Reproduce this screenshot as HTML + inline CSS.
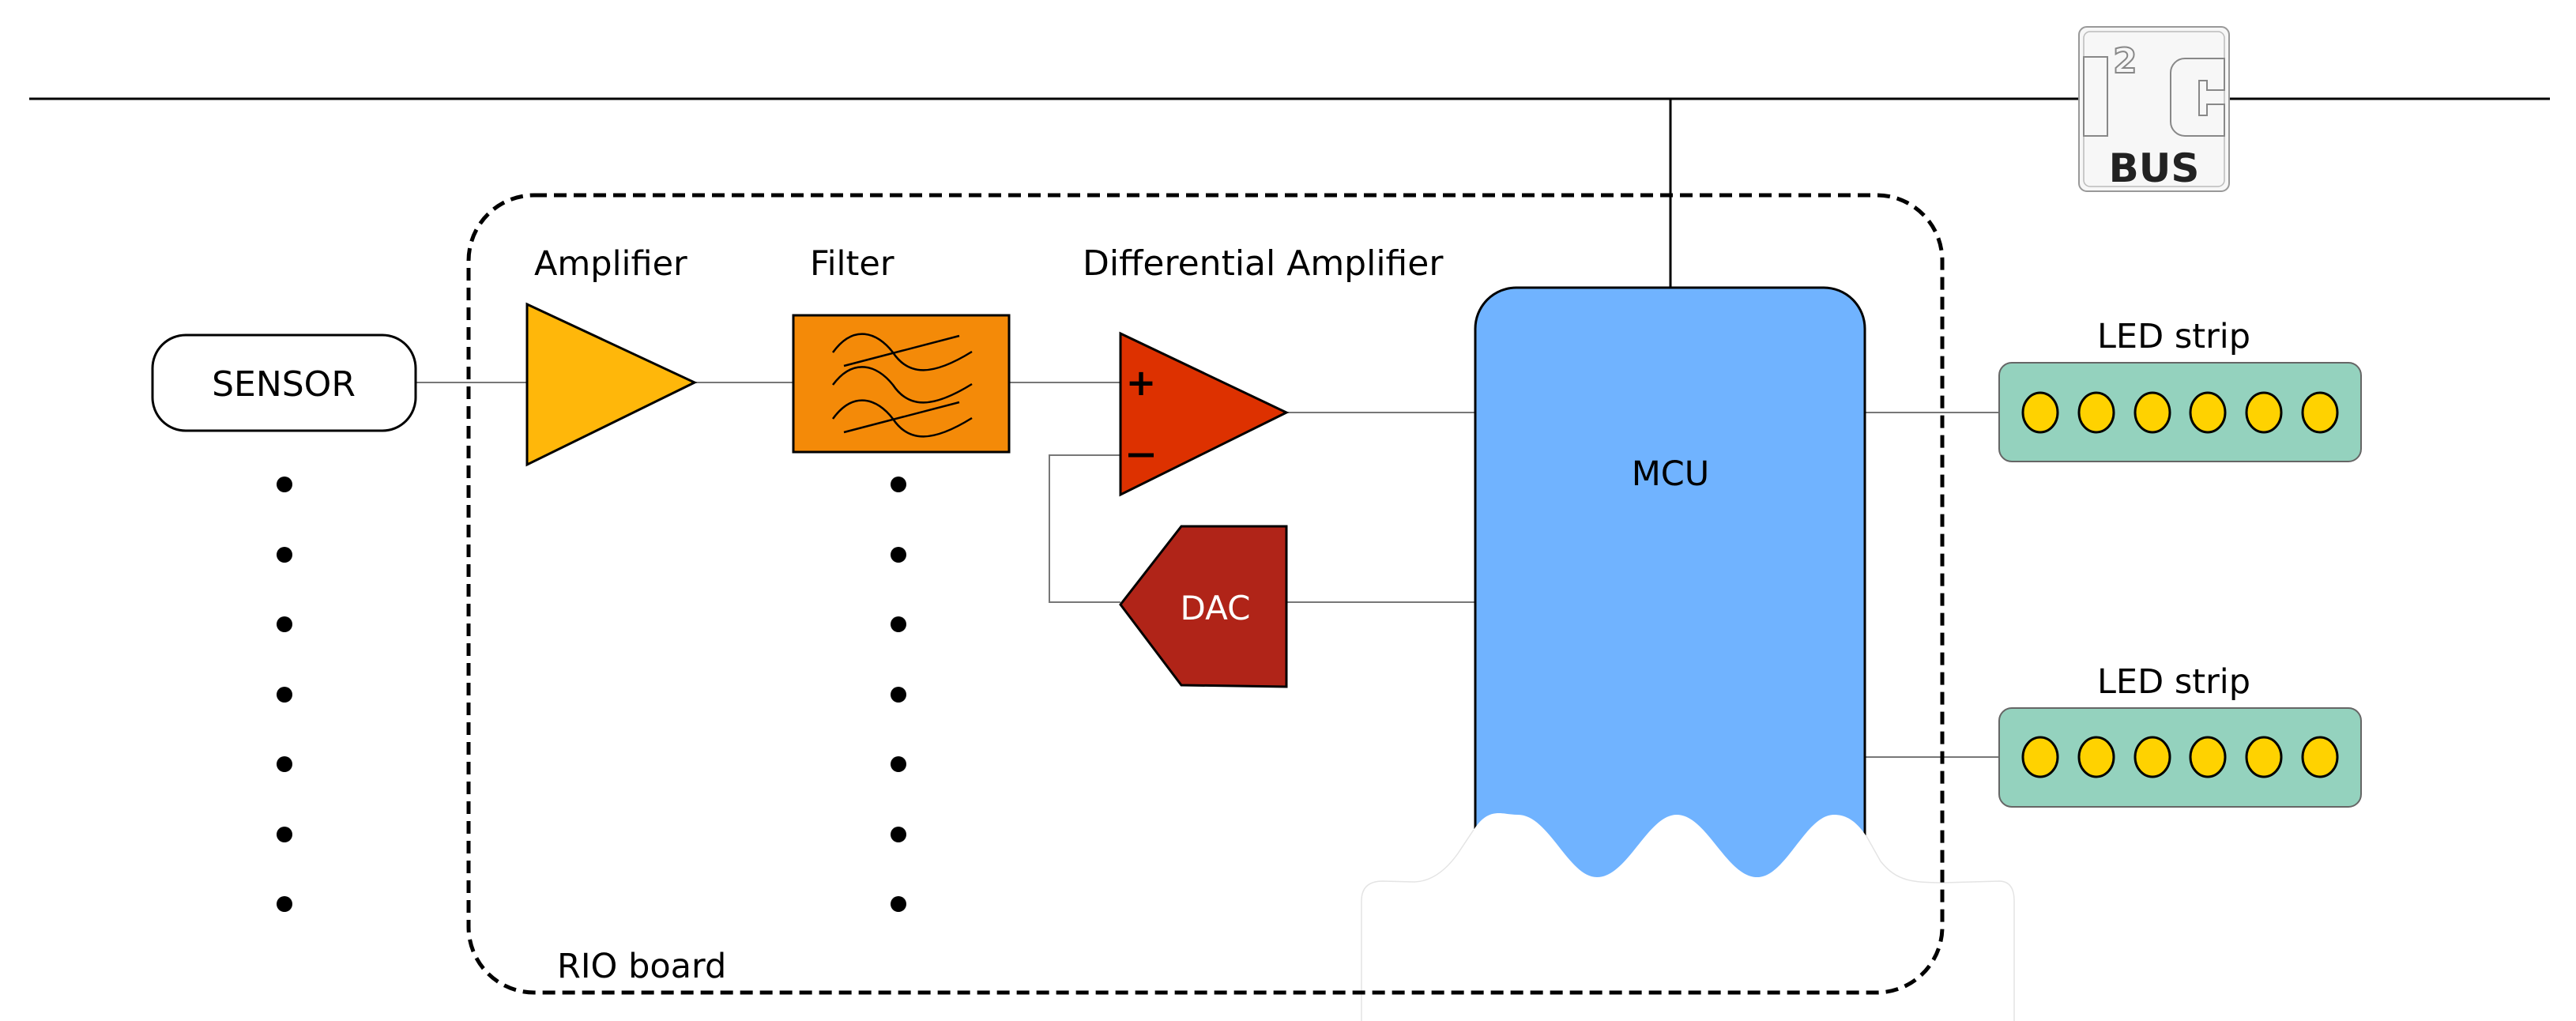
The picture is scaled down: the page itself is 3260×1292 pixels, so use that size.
<!DOCTYPE html>
<html><head><meta charset="utf-8"><style>
html,body{margin:0;padding:0;background:#fff;}
svg{display:block;}
text{font-family:"DejaVu Sans","Liberation Sans",sans-serif;}
</style></head><body>
<svg width="3260" height="1292" viewBox="0 0 3260 1292" xmlns="http://www.w3.org/2000/svg">
<line x1="37" y1="125" x2="2632" y2="125" stroke="#000" stroke-width="3"/>
<line x1="2820" y1="125" x2="3227" y2="125" stroke="#000" stroke-width="3"/>
<line x1="2114" y1="125" x2="2114" y2="366" stroke="#000" stroke-width="3"/>
<g>
<rect x="2631" y="34" width="190" height="208" rx="10" fill="#f7f7f7" stroke="#999" stroke-width="2"/>
<rect x="2637" y="40" width="178" height="196" rx="8" fill="none" stroke="#bbb" stroke-width="1.5"/>
<rect x="2637" y="72" width="30" height="100" fill="#f7f7f7" stroke="#888" stroke-width="2"/>
<text x="2674" y="92" font-size="44" font-weight="bold" fill="#f7f7f7" stroke="#888" stroke-width="2">2</text>
<path d="M2765 74 h50 v40 h-22 v-12 h-10 v44 h10 v-14 h22 v40 h-50 a18 18 0 0 1 -18 -18 v-62 a18 18 0 0 1 18 -18z" fill="#f7f7f7" stroke="#888" stroke-width="2"/>
<text x="2726" y="230" font-size="50" font-weight="bold" text-anchor="middle" fill="#222">BUS</text>
</g>
<g stroke="#777" stroke-width="2" fill="none">
<line x1="526" y1="484" x2="667" y2="484"/>
<line x1="879" y1="484" x2="1004" y2="484"/>
<line x1="1277" y1="484" x2="1418" y2="484"/>
<line x1="1628" y1="522" x2="1867" y2="522"/>
<polyline points="1418,576 1328,576 1328,762 1418,762"/>
<line x1="1628" y1="762" x2="1867" y2="762"/>
<line x1="2360" y1="522" x2="2530" y2="522"/>
<line x1="2360" y1="958" x2="2530" y2="958"/>
</g>
<rect x="193" y="424" width="333" height="121" rx="42" fill="#fff" stroke="#000" stroke-width="3"/>
<text x="359" y="501" font-size="44" text-anchor="middle">SENSOR</text>
<polygon points="667,385 879,484 667,588" fill="#FFB70A" stroke="#000" stroke-width="3"/>
<text x="676" y="348" font-size="43">Amplifier</text>
<rect x="1004" y="399" width="273" height="173" fill="#F48A08" stroke="#000" stroke-width="3"/>
<g fill="none" stroke="#000" stroke-width="2.5">
<path d="M1054 446 C1080 410,1110 420,1130 446 C1150 476,1180 476,1230 445"/>
<path d="M1054 487 C1080 452,1110 462,1130 487 C1150 517,1180 517,1230 486"/>
<path d="M1054 530 C1080 494,1110 504,1130 530 C1150 560,1180 560,1230 529"/>
<line x1="1068" y1="463" x2="1214" y2="425"/>
<line x1="1068" y1="547" x2="1214" y2="509"/>
</g>
<text x="1025" y="348" font-size="43">Filter</text>
<polygon points="1418,422 1628,522 1418,626" fill="#DD3100" stroke="#000" stroke-width="3"/>
<text x="1444" y="500" font-size="46" font-weight="bold" text-anchor="middle">+</text>
<line x1="1428" y1="576" x2="1460" y2="576" stroke="#000" stroke-width="5"/>
<text x="1370" y="348" font-size="44">Differential Amplifier</text>
<polygon points="1418,765 1495,666 1628,666 1628,869 1495,867" fill="#B02418" stroke="#000" stroke-width="3"/>
<text x="1538" y="784" font-size="42" text-anchor="middle" fill="#fff">DAC</text>
<path d="M1867 1130 V416 a52 52 0 0 1 52 -52 H2308 a52 52 0 0 1 52 52 V1130 Z" fill="#70B3FF" stroke="#000" stroke-width="3"/>
<text x="2114" y="614" font-size="43" text-anchor="middle">MCU</text>
<path d="M1723 1140 Q1723 1115 1750 1115 L1790 1116 Q1820 1115 1845 1080 L1865 1050 C1885 1020,1900 1031,1921 1031 C1960 1031,1985 1110,2021 1110 C2060 1110,2085 1031,2122 1031 C2160 1031,2185 1110,2224 1110 C2260 1110,2285 1031,2321 1031 C2345 1031,2360 1050,2380 1090 C2400 1115,2420 1117,2460 1117 L2530 1115 Q2549 1115 2549 1140 V1292 H1723 Z" fill="#fff" stroke="none"/>
<path d="M1723 1292 V1140 Q1723 1115 1750 1115 L1790 1116 Q1820 1115 1845 1080 L1865 1050" fill="none" stroke="#e4e4e4" stroke-width="1.5"/>
<path d="M2362 1058 L2380 1090 C2400 1115,2420 1117,2460 1117 L2530 1115 Q2549 1115 2549 1140 V1292" fill="none" stroke="#e4e4e4" stroke-width="1.5"/>
<rect x="593" y="247" width="1865" height="1009" rx="83" fill="none" stroke="#000" stroke-width="5" stroke-dasharray="16,9"/>
<text x="705" y="1237" font-size="43">RIO board</text>
<g fill="#000">
<circle cx="360" cy="613" r="10"/><circle cx="360" cy="702" r="10"/><circle cx="360" cy="790" r="10"/><circle cx="360" cy="879" r="10"/><circle cx="360" cy="967" r="10"/><circle cx="360" cy="1056" r="10"/><circle cx="360" cy="1144" r="10"/>
<circle cx="1137" cy="613" r="10"/><circle cx="1137" cy="702" r="10"/><circle cx="1137" cy="790" r="10"/><circle cx="1137" cy="879" r="10"/><circle cx="1137" cy="967" r="10"/><circle cx="1137" cy="1056" r="10"/><circle cx="1137" cy="1144" r="10"/>
</g>
<text x="2751" y="440" font-size="43" text-anchor="middle">LED strip</text>
<rect x="2530" y="459" width="458" height="125" rx="16" fill="#94D2BE" stroke="#666" stroke-width="2"/>
<g fill="#FFD200" stroke="#000" stroke-width="3">
<ellipse cx="2582" cy="522" rx="22" ry="25"/><ellipse cx="2653" cy="522" rx="22" ry="25"/><ellipse cx="2724" cy="522" rx="22" ry="25"/><ellipse cx="2794" cy="522" rx="22" ry="25"/><ellipse cx="2865" cy="522" rx="22" ry="25"/><ellipse cx="2936" cy="522" rx="22" ry="25"/>
</g>
<text x="2751" y="877" font-size="43" text-anchor="middle">LED strip</text>
<rect x="2530" y="896" width="458" height="125" rx="16" fill="#94D2BE" stroke="#666" stroke-width="2"/>
<g fill="#FFD200" stroke="#000" stroke-width="3">
<ellipse cx="2582" cy="958" rx="22" ry="25"/><ellipse cx="2653" cy="958" rx="22" ry="25"/><ellipse cx="2724" cy="958" rx="22" ry="25"/><ellipse cx="2794" cy="958" rx="22" ry="25"/><ellipse cx="2865" cy="958" rx="22" ry="25"/><ellipse cx="2936" cy="958" rx="22" ry="25"/>
</g>
</svg>
</body></html>
